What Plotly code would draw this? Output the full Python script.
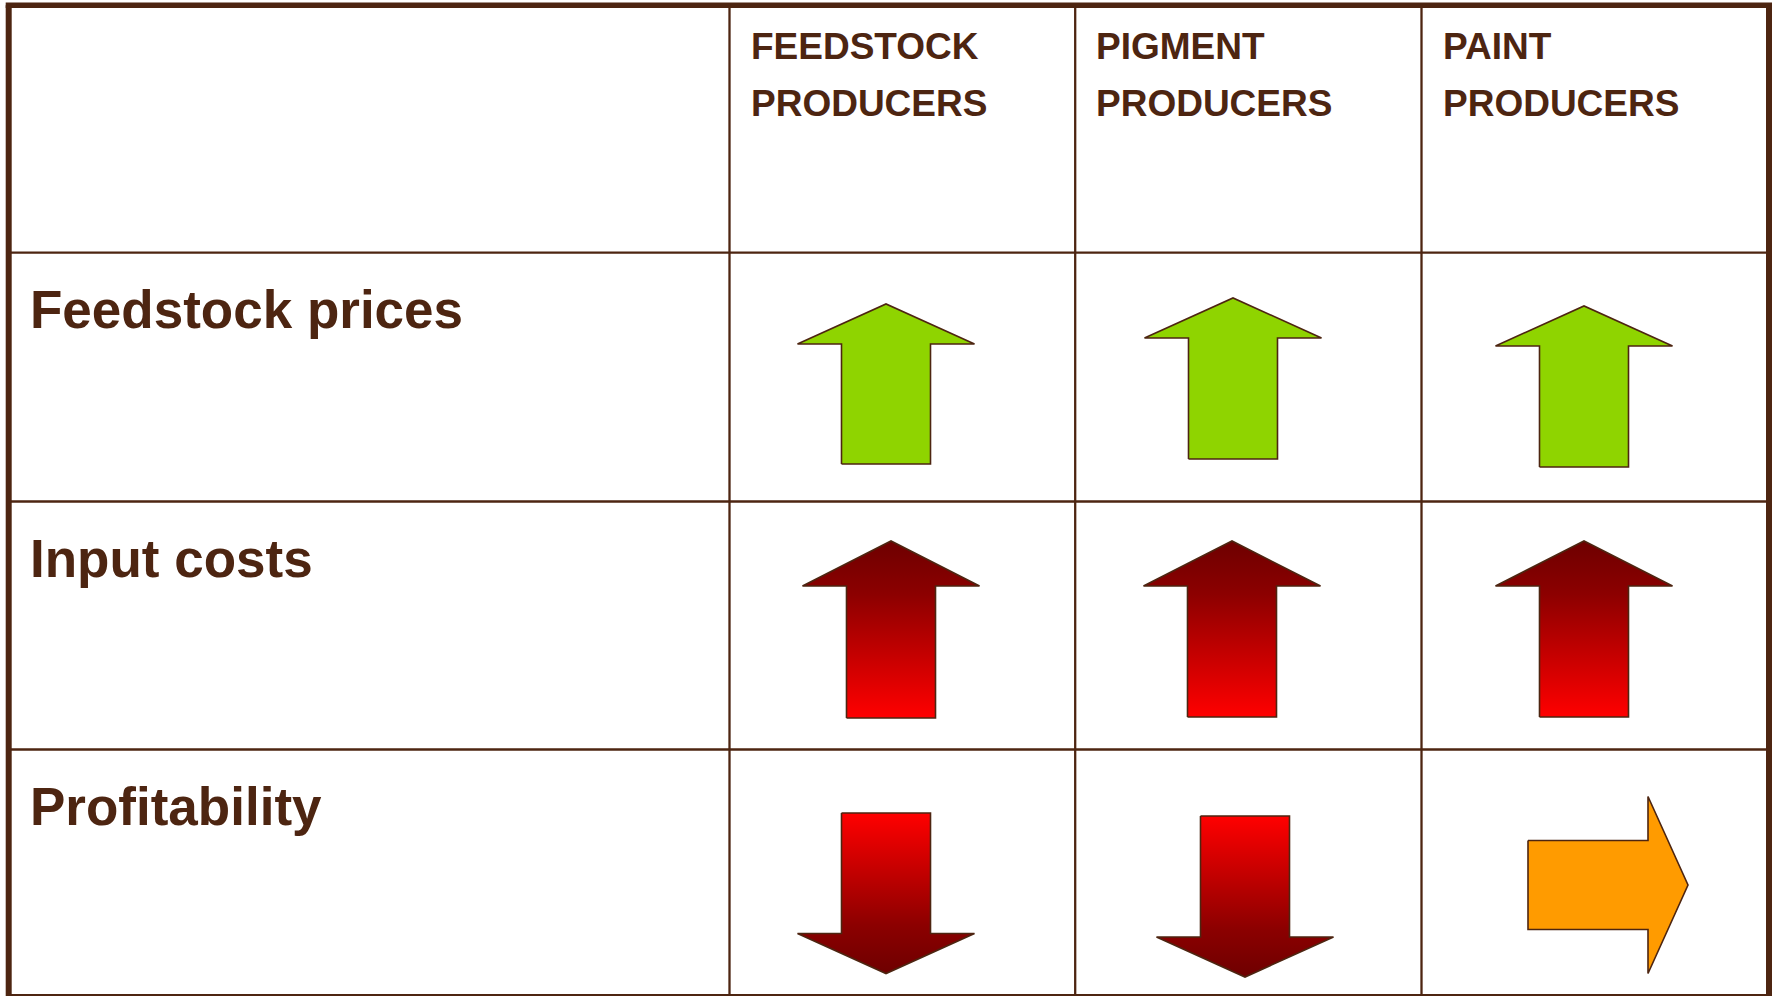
import plotly.graph_objects as go

# ---- data ----
columns = ["FEEDSTOCK PRODUCERS", "PIGMENT PRODUCERS", "PAINT PRODUCERS"]
rows = ["Feedstock prices", "Input costs", "Profitability"]
directions = [
    ["up", "up", "up"],
    ["up", "up", "up"],
    ["down", "down", "right"],
]
styles = [
    ["green", "green", "green"],
    ["red_up", "red_up", "red_up"],
    ["red_down", "red_down", "orange"],
]

# ---- geometry (pixel space) ----
W, H = 1777, 996
col_x = [8.7, 729.5, 1075.2, 1421.5, 1769]
row_y = [5.3, 252.7, 501.5, 749.5, 995]
# arrow placement per cell: (centre, start, end) along arrow axis
arrow_pos = [
    [(886, 464, 304), (1233, 459, 298), (1584, 467, 306)],
    [(891, 718, 541), (1232, 717, 541), (1584, 717, 541)],
    [(886, 813, 973.5), (1245, 816, 977), (885, 1528, 1688)],
]
HEAD_LEN = [40, 45, 40]
HEAD_W = 177
SHAFT_W = 89

INK = "#4d2511"
fill_styles = {
    "green": dict(fillcolor="#8fd400"),
    "orange": dict(fillcolor="#ff9b00"),
    "red_up": dict(fillgradient=dict(type="vertical",
                   colorscale=[[0, "#ff0000"], [0.7, "#8c0000"], [1, "#6e0000"]])),
    "red_down": dict(fillgradient=dict(type="vertical",
                     colorscale=[[0, "#6e0000"], [0.3, "#8c0000"], [1, "#ff0000"]])),
}


def arrow_poly(direction, c, s, e, hl):
    hw, sw = HEAD_W / 2, SHAFT_W / 2
    sign = 1 if e > s else -1
    b = e - sign * hl  # head base along axis
    along = [s, s, b, b, e, b, b, s]
    across = [c - sw, c + sw, c + sw, c + hw, c, c - hw, c - sw, c - sw]
    if direction == "right":
        return along, across
    return across, along


fig = go.Figure()

for ri in range(3):
    for ci in range(3):
        c, s, e = arrow_pos[ri][ci]
        xs, ys = arrow_poly(directions[ri][ci], c, s, e, HEAD_LEN[ri])
        fig.add_trace(go.Scatter(
            x=xs, y=ys, mode="lines", fill="toself",
            line=dict(color=INK, width=1.6),
            hoverinfo="skip", showlegend=False,
            **fill_styles[styles[ri][ci]],
        ))

# grid lines
shapes = []
for x in col_x[1:-1]:
    shapes.append(dict(type="line", x0=x, x1=x, y0=row_y[0], y1=row_y[-1],
                       line=dict(color=INK, width=2.3)))
for y in row_y[1:-1]:
    shapes.append(dict(type="line", x0=col_x[0], x1=col_x[-1], y0=y, y1=y,
                       line=dict(color=INK, width=2.3)))
shapes.append(dict(type="line", x0=col_x[0], x1=col_x[-1], y0=row_y[-1], y1=row_y[-1],
                   line=dict(color=INK, width=2)))
# outer thick frame (top, left, right)
shapes.append(dict(type="line", x0=col_x[0] - 3, x1=col_x[-1] + 3, y0=row_y[0], y1=row_y[0],
                   line=dict(color=INK, width=5.5)))
shapes.append(dict(type="line", x0=col_x[0], x1=col_x[0], y0=row_y[0], y1=H + 5,
                   line=dict(color=INK, width=6)))
shapes.append(dict(type="line", x0=col_x[-1], x1=col_x[-1], y0=row_y[0], y1=H + 5,
                   line=dict(color=INK, width=6)))

annotations = []
FONT = "Liberation Sans, Arial, sans-serif"
for ci, name in enumerate(columns):
    w1, w2 = name.split(" ")
    x0 = col_x[ci + 1] + 19
    for txt, base in ((w1, 61.5), (w2, 118)):
        annotations.append(dict(x=x0, y=base - 15, xref="x", yref="y", text="<b>%s</b>" % txt,
                                showarrow=False, xanchor="left", yanchor="middle",
                                font=dict(family=FONT, size=37, color=INK)))
row_base = [328.3, 577, 825]
for ri, name in enumerate(rows):
    annotations.append(dict(x=28, y=row_base[ri] - 19, xref="x", yref="y", text="<b>%s</b>" % name,
                            showarrow=False, xanchor="left", yanchor="middle",
                            font=dict(family=FONT, size=53, color=INK)))

fig.update_layout(
    width=W, height=H, margin=dict(l=0, r=0, t=0, b=0),
    paper_bgcolor="white", plot_bgcolor="white",
    xaxis=dict(range=[0, W], visible=False, fixedrange=True),
    yaxis=dict(range=[H, 0], visible=False, fixedrange=True),
    shapes=shapes, annotations=annotations,
)
fig.write_html("out.html", config={"displayModeBar": False},
               post_script="document.body.style.margin='0';document.body.style.overflow='hidden';")
